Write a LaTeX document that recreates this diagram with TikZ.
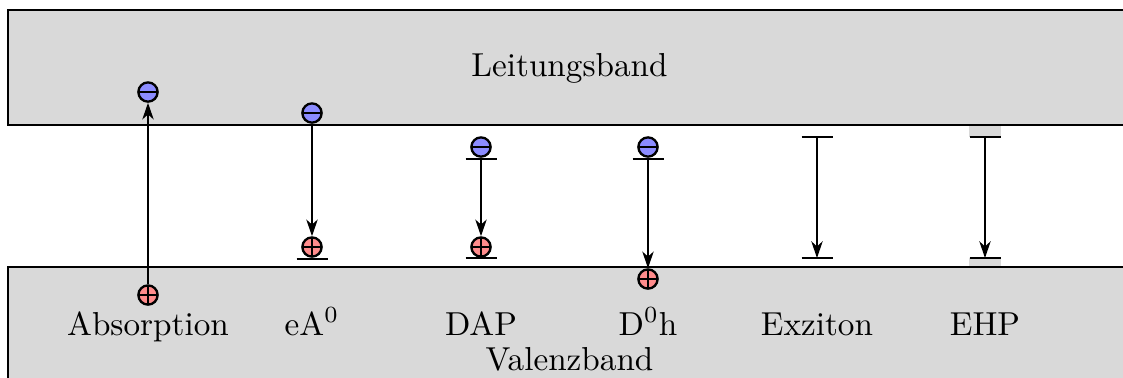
\documentclass[tikz,border=0pt]{standalone}
\usetikzlibrary{arrows.meta,calc}
\begin{document}
\begin{tikzpicture}[x=0.3012pt,y=-0.3012pt,
  band/.style={draw,line width=0.7pt,fill=gray!30},
  carrier/.style={circle,draw,line width=0.7pt,minimum size=5.8pt,inner sep=0pt},
  elec/.style={carrier,fill=blue!45,
    path picture={\draw[line width=0.7pt] ([xshift=-3pt]path picture bounding box.center) -- ([xshift=3pt]path picture bounding box.center);}},
  hole/.style={carrier,fill=red!45,
    path picture={\draw[line width=0.7pt] ([xshift=-3pt]path picture bounding box.center) -- ([xshift=3pt]path picture bounding box.center);
                  \draw[line width=0.7pt] ([yshift=-3pt]path picture bounding box.center) -- ([yshift=3pt]path picture bounding box.center);}},
  arr/.style={line width=0.65pt,-{Stealth[length=5pt,width=3.4pt,inset=1.5pt]}},
  lvl/.style={line width=0.7pt},
  lab/.style={anchor=base,inner sep=0pt}]
\clip (0,0) rectangle (1123,377);
% bands
\draw[band] (8,10) rectangle (1131,125);
\draw[band] (8,267) rectangle (1131,400);
\node[lab] (lb) at (569.5,76) {Leitungsband};
\node[lab] (vb) at (569.5,370) {Valenzband};
% EHP gray patches
\fill[gray!30] (969,126) rectangle (1001,137);
\fill[gray!30] (969,258) rectangle (1001,266);
% level coordinates
\coordinate (eL) at (312,259);
\coordinate (dT) at (481,159);
\coordinate (dB) at (481,258);
\coordinate (hT) at (648,159);
\coordinate (xT) at (817,137);
\coordinate (xB) at (817,258);
\coordinate (pT) at (985,137);
\coordinate (pB) at (985,258);
\foreach \c in {eL,dT,dB,hT,xT,xB,pT,pB}
  \draw[lvl] ($(\c)+(-15.5,0)$) -- ($(\c)+(15.5,0)$);
% carriers
\node[elec] (aE) at (148,92) {};
\node[hole] (aH) at (148,295) {};
\node[elec] (eE) at (312,113) {};
\node[hole] (eH) at (312,247) {};
\node[elec] (dE) at (481,147) {};
\node[hole] (dH) at (481,247) {};
\node[elec] (hE) at (648,147) {};
\node[hole] (hH) at (648,279) {};
% transitions
\draw[arr] (aH) -- (aE);
\draw[arr] (eE) -- (eH);
\draw[arr] (dT) -- (dH);
\draw[arr] (hT) -- (hH);
\draw[arr] (xT) -- (xB);
\draw[arr] (pT) -- (pB);
% labels
\node[lab] (l1) at (148,335) {Absorption};
\node[lab] (l2) at (312,335) {eA$^0$};
\node[lab] (l3) at (481,335) {DAP};
\node[lab] (l4) at (648,335) {D$^0$h};
\node[lab] (l5) at (817,335) {Exziton};
\node[lab] (l6) at (985,335) {EHP};
\end{tikzpicture}
\end{document}
